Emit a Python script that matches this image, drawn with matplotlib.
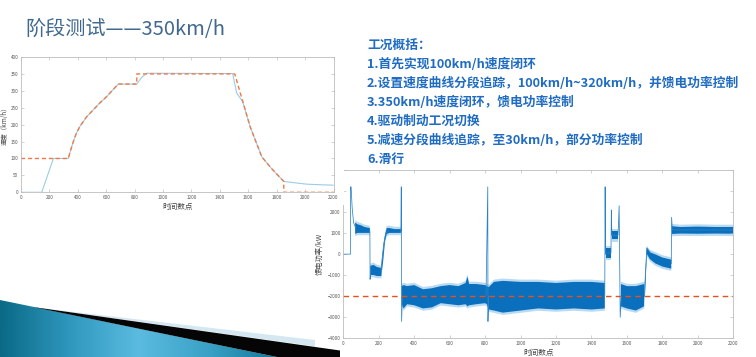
import numpy as np
import matplotlib
matplotlib.use("Agg")
import matplotlib.pyplot as plt
from matplotlib.patches import Polygon, Rectangle
from matplotlib.colors import LinearSegmentedColormap

plt.rcParams['font.family'] = ['Noto Sans CJK SC', 'DejaVu Sans']

nan = np.nan

# ---- slide text ----
title = "阶段测试——350km/h"
notes = ["工况概括：",
         "1.首先实现100km/h速度闭环",
         "2.设置速度曲线分段追踪，100km/h~320km/h，并馈电功率控制",
         "3.350km/h速度闭环，馈电功率控制",
         "4.驱动制动工况切换",
         "5.减速分段曲线追踪，至30km/h，部分功率控制",
         "6.滑行"]

# ---- speed chart (top left) ----
ref_x = [0, 333, 350, 370, 390, 415, 460, 509, 555, 603, 645, 685, 815, 815,
         1505, 1560, 1613, 1695, 1760, 1850, 1850, 2200]
ref_v = [100, 100, 125, 152, 175, 195, 222, 244, 264, 283, 302, 320, 320, 350,
         350, 270, 194, 105, 72, 32, 0, 0]
spd_x = [0, 146, 228, 333, 350, 370, 390, 415, 460, 509, 555, 603, 645, 685,
         815, 850, 885, 1490, 1519, 1561, 1613, 1695, 1760, 1850, 2011, 2197]
spd_v = [0, 0, 100, 100, 125, 152, 175, 195, 222, 244, 264, 283, 302, 320,
         320, 340, 352, 351, 293, 268, 194, 105, 72, 32, 24, 21]

# ---- feed power chart (bottom right) ----
pw_x = [0, 40, 41, 44, 50, 58, 67, nan,
        150, 151, 155, nan,
        213, 218, 228, 240, 255, nan,
        325, 327, 329, 333, nan,
        805, 815, 816, 820, nan,
        1475, 1477, 1479, 1482, 1510, 1512, 1515, 1550, 1556, 1562, 1568, nan,
        1698, 1712, 1730, nan,
        1850, 1852, 1856, 2200]
pw_y = [0, 0, 3200, 3200, 2200, 1500, 1300, nan,
        1100, -1200, -800, nan,
        -800, -300, 500, 1000, 1100, nan,
        1100, 3200, -3200, -2000, nan,
        -2000, 3200, -3200, -2000, nan,
        -1950, 3200, 0, 50, 50, 2100, 900, 900, 2300, -3000, -2000, nan,
        -2000, 300, 100, nan,
        -450, 1750, 1150, 1150]

band_x = [67, 80, 100, 120, 150, nan,
          152, 170, 190, 215, nan,
          215, 225, 235, 245, 260, 290, 325, nan,
          330, 340, 360, 400, 450, 500, 550, 600, 650, 690, 700, 710, 750, 800,
          810, 820, 850, 900, 1000, 1100, 1200, 1300, 1400, 1475, nan,
          1480, 1510, nan,
          1515, 1550, nan,
          1566, 1600, 1650, 1697, nan,
          1700, 1712, 1730, 1760, 1800, 1850, nan,
          1854, 1900, 2000, 2100, 2200]
band_hi = [1500, 1420, 1370, 1290, 1240, nan,
           -560, -510, -610, -660, nan,
           -610, 190, 890, 1240, 1240, 1190, 1190, nan,
           -1520, -1470, -1520, -1470, -1670, -1620, -1520, -1470, -1520, -1370,
           -1070, -1420, -1420, -1470, -1520, -1570, -1320, -1270, -1320, -1320,
           -1370, -1320, -1320, -1370, nan,
           280, 280, nan,
           1090, 1090, nan,
           -1420, -1520, -1520, -1420, nan,
           -1520, 290, 90, -10, -160, -260, nan,
           1330, 1290, 1310, 1290, 1290]
band_lo = [960, 1010, 1010, 1010, 1010, nan,
           -990, -990, -1040, -1040, nan,
           -990, -290, 610, 960, 1010, 1010, 1010, nan,
           -2380, -2580, -2380, -2430, -2580, -2530, -2330, -2380, -2430, -2380,
           -2480, -2430, -2380, -2330, -2380, -2630, -2680, -2780, -2680, -2580,
           -2630, -2580, -2630, -2580, nan,
           -190, -190, nan,
           710, 710, nan,
           -2480, -2580, -2680, -2480, nan,
           -2280, 10, -240, -440, -590, -690, nan,
           960, 980, 970, 980, 970]
band_fuzz = 110
pw_limit = -2000

W, H = 756, 357
fig = plt.figure(figsize=(W / 100, H / 100), dpi=100)
fig.patch.set_facecolor("white")


def style(ax, xt, yt):
    ax.set_xticks(xt)
    ax.set_yticks(yt)
    ax.tick_params(direction="in", length=2, width=0.4, labelsize=3.3,
                   colors="#b0b0b0", labelcolor="#555555", pad=2,
                   top=True, right=True)
    for s in ax.spines.values():
        s.set_color("#bdbdbd")
        s.set_linewidth(0.6)


# bottom right: feed power
ax2 = fig.add_axes([343.3 / W, 1 - 338.3 / H, 390 / W, 168.3 / H], zorder=0)
lo = np.array(band_lo, dtype=float)
hi = np.array(band_hi, dtype=float)
ax2.fill_between(band_x, lo - band_fuzz, hi + band_fuzz, color="#8cc2e8",
                 alpha=0.6, lw=0)
ax2.fill_between(band_x, lo, hi, color="#0a6fbd", lw=0)
ax2.plot(pw_x, pw_y, color="#2b82c8", lw=0.55)
ax2.axhline(pw_limit, color="#e8501a", lw=1.0, dashes=(4, 3))
ax2.set_xlim(0, 2200)
ax2.set_ylim(-4000, 4000)
style(ax2, range(0, 2201, 200), range(-4000, 4001, 1000))
ax2.set_xlabel("时间数点", fontsize=5.5, color="#444444", labelpad=2)
ax2.set_ylabel("馈电功率/kW", fontsize=5.2, color="#444444", labelpad=3)

# white backing of the top-left picture
fig.patches.append(Rectangle((0, 1 - 205 / H), 344 / W, 160 / H,
                             transform=fig.transFigure, facecolor="white",
                             edgecolor="none", zorder=1))

# top left: speed
ax1 = fig.add_axes([21 / W, 1 - 192.3 / H, 312.5 / W, 135.3 / H], zorder=2)
ax1.plot(spd_x, spd_v, color="#9ccbe8", lw=0.8)
ax1.plot(ref_x, ref_v, color="#f07a45", lw=1.0, dashes=(3, 2))
ax1.set_xlim(0, 2200)
ax1.set_ylim(0, 400)
style(ax1, range(0, 2201, 200), range(0, 401, 50))
ax1.set_xlabel("时间数点", fontsize=5.5, color="#444444", labelpad=2)
ax1.set_ylabel("速度（km/h）", fontsize=4.6, color="#444444", labelpad=1.5)

# overlay in pixel coordinates: title, notes, corner decoration
ov = fig.add_axes([0, 0, 1, 1], zorder=5)
ov.set_xlim(0, W)
ov.set_ylim(H, 0)
ov.axis("off")
ov.patch.set_alpha(0)

ov.text(25, 29, title, fontsize=14.5, color="#41698f", va="center", ha="left")
for i, line in enumerate(notes):
    ov.text(367, 45 + 19.05 * i, line, fontsize=9.2, fontweight="bold",
            color="#1f6cc2", va="center", ha="left")

teal = Polygon([(0, 300), (277, 357), (0, 357)], closed=True,
               facecolor="none", edgecolor="none")
ov.add_patch(teal)
cmap = LinearSegmentedColormap.from_list(
    "teal", ["#0b6a86", "#2f97bd", "#5bbbe0", "#3aa2c6", "#137a9c"])
grad = ov.imshow(np.linspace(0, 1, 256)[None, :], cmap=cmap, aspect="auto",
                 extent=(0, 277, 357, 300), zorder=1)
grad.set_clip_path(teal)
ov.add_patch(Polygon([(40, 308), (315, 340), (315, 346.5)], closed=True,
                     facecolor="#d5e8f1", edgecolor="none", zorder=2))
ov.add_patch(Polygon([(33, 307), (340, 350.5), (340, 357), (277, 357)],
                     closed=True, facecolor="#050505", edgecolor="none",
                     zorder=2))
ov.set_xlim(0, W)
ov.set_ylim(H, 0)

fig.savefig("out.png", dpi=100)
